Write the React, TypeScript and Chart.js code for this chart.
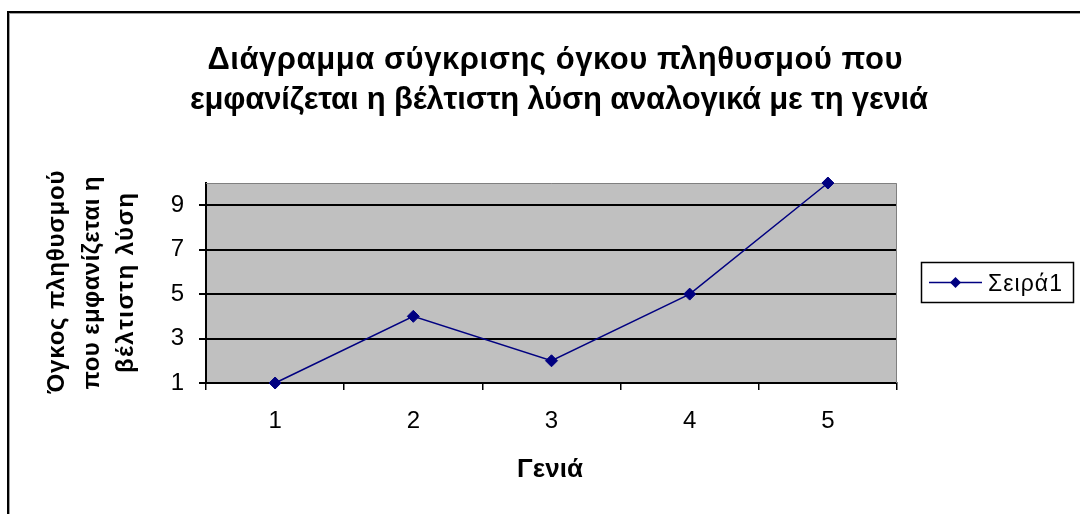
import { useEffect, useRef } from 'react';
import { Chart, registerables } from 'chart.js';

Chart.register(...registerables);

// ---- data ----
const categories = ['1', '2', '3', '4', '5'];
const seriesLabel = 'Σειρά1';
const seriesValues = [1, 4, 2, 5, 10];
const yTickValues = [1, 3, 5, 7, 9];
const yMin = 1;
const yMax = 10;
const titleLines = [
  'Διάγραμμα σύγκρισης όγκου πληθυσμού που',
  'εμφανίζεται η βέλτιστη λύση αναλογικά με τη γενιά',
];
const yTitleLines = ['Όγκος πληθυσμού', 'που εμφανίζεται η', 'βέλτιστη λύση'];
const xTitle = 'Γενιά';

// ---- styles ----
const FONT = '"Liberation Sans", Arial, sans-serif';
const NAVY = '#000080';
const PLOT_BG = '#C0C0C0';

function drawFitted(
  ctx: CanvasRenderingContext2D,
  text: string,
  cx: number,
  baseline: number,
  width: number,
  font: string,
  rotate = false
) {
  ctx.save();
  ctx.font = font;
  (ctx as any).letterSpacing = '0px';
  const natural = ctx.measureText(text).width;
  const n = Array.from(text).length;
  const sp = n > 1 ? (width - natural) / (n - 1) : 0;
  (ctx as any).letterSpacing = sp + 'px';
  const total = natural + sp * (n - 1);
  ctx.fillStyle = '#000';
  ctx.textAlign = 'left';
  ctx.textBaseline = 'alphabetic';
  if (rotate) {
    ctx.translate(cx, baseline);
    ctx.rotate(-Math.PI / 2);
    ctx.fillText(text, -total / 2, 0);
  } else {
    ctx.fillText(text, cx - total / 2, baseline);
  }
  ctx.restore();
}

const decorPlugin = {
  id: 'excelDecor',
  beforeDraw(chart: any) {
    const { ctx, chartArea: a, width, height } = chart;
    ctx.save();
    ctx.fillStyle = '#fff';
    ctx.fillRect(0, 0, width, height);
    ctx.fillStyle = '#000';
    ctx.fillRect(7, 11, 2, height - 11);
    ctx.fillRect(7, 11, width - 7, 2);
    ctx.fillStyle = '#a0a0a0';
    ctx.fillRect(9, 13, 1, height - 13);
    ctx.fillRect(9, 13, width - 9, 1);
    ctx.fillStyle = PLOT_BG;
    ctx.fillRect(a.left, a.top, a.right - a.left, a.bottom - a.top);
    ctx.restore();
  },
  beforeDatasetsDraw(chart: any) {
    const { ctx, chartArea: a } = chart;
    ctx.save();
    ctx.strokeStyle = '#808080';
    ctx.lineWidth = 1;
    ctx.beginPath();
    ctx.moveTo(a.left, a.top + 0.5);
    ctx.lineTo(a.right - 0.5, a.top + 0.5);
    ctx.lineTo(a.right - 0.5, a.bottom);
    ctx.stroke();
    ctx.restore();
  },
  afterDraw(chart: any) {
    const { ctx } = chart;
    drawFitted(ctx, titleLines[0], 555, 69, 695, `bold 31px ${FONT}`);
    drawFitted(ctx, titleLines[1], 559, 109, 738, `bold 31px ${FONT}`);
    drawFitted(ctx, yTitleLines[0], 64, 282, 223, `bold 24px ${FONT}`, true);
    drawFitted(ctx, yTitleLines[1], 99, 283, 213, `bold 24px ${FONT}`, true);
    drawFitted(ctx, yTitleLines[2], 133, 283, 180, `bold 24px ${FONT}`, true);
    drawFitted(ctx, xTitle, 550, 477, 66, `bold 26px ${FONT}`);
    const ds = chart.data.datasets[0];
    ctx.save();
    ctx.fillStyle = '#fff';
    ctx.fillRect(921, 262, 153, 41);
    ctx.strokeStyle = '#000';
    ctx.lineWidth = 1.5;
    ctx.strokeRect(921.5, 262.5, 152, 40);
    ctx.strokeStyle = ds.borderColor;
    ctx.lineWidth = 1.5;
    ctx.beginPath();
    ctx.moveTo(929, 282.5);
    ctx.lineTo(982, 282.5);
    ctx.stroke();
    ctx.fillStyle = ds.pointBackgroundColor;
    ctx.beginPath();
    ctx.moveTo(955.5, 277);
    ctx.lineTo(961, 282.5);
    ctx.lineTo(955.5, 288);
    ctx.lineTo(950, 282.5);
    ctx.closePath();
    ctx.fill();
    ctx.restore();
    drawFitted(ctx, ds.label, 1025, 291, 74, `23px ${FONT}`);
  },
};

export default function App() {
  const ref = useRef<HTMLCanvasElement | null>(null);

  useEffect(() => {
    document.body.style.margin = '0';
    const canvas = ref.current!;
    const chart = new Chart(canvas, {
      type: 'line',
      data: {
        labels: categories,
        datasets: [
          {
            label: seriesLabel,
            data: seriesValues,
            borderColor: NAVY,
            backgroundColor: NAVY,
            borderWidth: 1.5,
            pointStyle: 'rectRot',
            pointRadius: 6,
            pointBackgroundColor: NAVY,
            pointBorderColor: NAVY,
            pointBorderWidth: 1,
            tension: 0,
            clip: false as any,
          },
        ],
      },
      options: {
        animation: false,
        responsive: true,
        maintainAspectRatio: false,
        layout: { padding: { top: 183, right: 183, bottom: 0, left: 0 } },
        plugins: {
          legend: { display: false },
          title: { display: false },
          tooltip: { enabled: false },
        },
        scales: {
          x: {
            type: 'category',
            offset: true,
            grid: {
              offset: true,
              drawOnChartArea: false,
              drawTicks: true,
              tickLength: 7,
              color: '#000',
              lineWidth: 1.5,
            },
            border: { color: '#000', width: 2 },
            ticks: {
              color: '#000',
              font: { family: FONT, size: 24 },
              padding: 17,
              maxRotation: 0,
            },
            afterFit: (s: any) => {
              s.height = 131;
            },
          },
          y: {
            min: yMin,
            max: yMax,
            grid: {
              drawTicks: true,
              tickLength: 7,
              color: '#000',
              lineWidth: 2,
            },
            border: { color: '#000', width: 2 },
            ticks: {
              color: '#000',
              font: { family: FONT, size: 24 },
              padding: 15,
            },
            afterBuildTicks: (s: any) => {
              s.ticks = yTickValues.map((v) => ({ value: v }));
            },
            afterFit: (s: any) => {
              s.width = 206;
            },
          },
        },
      },
      plugins: [decorPlugin],
    });
    return () => chart.destroy();
  }, []);

  return (
    <div style={{ width: 1080, height: 514, position: 'relative' }}>
      <canvas ref={ref} />
    </div>
  );
}
